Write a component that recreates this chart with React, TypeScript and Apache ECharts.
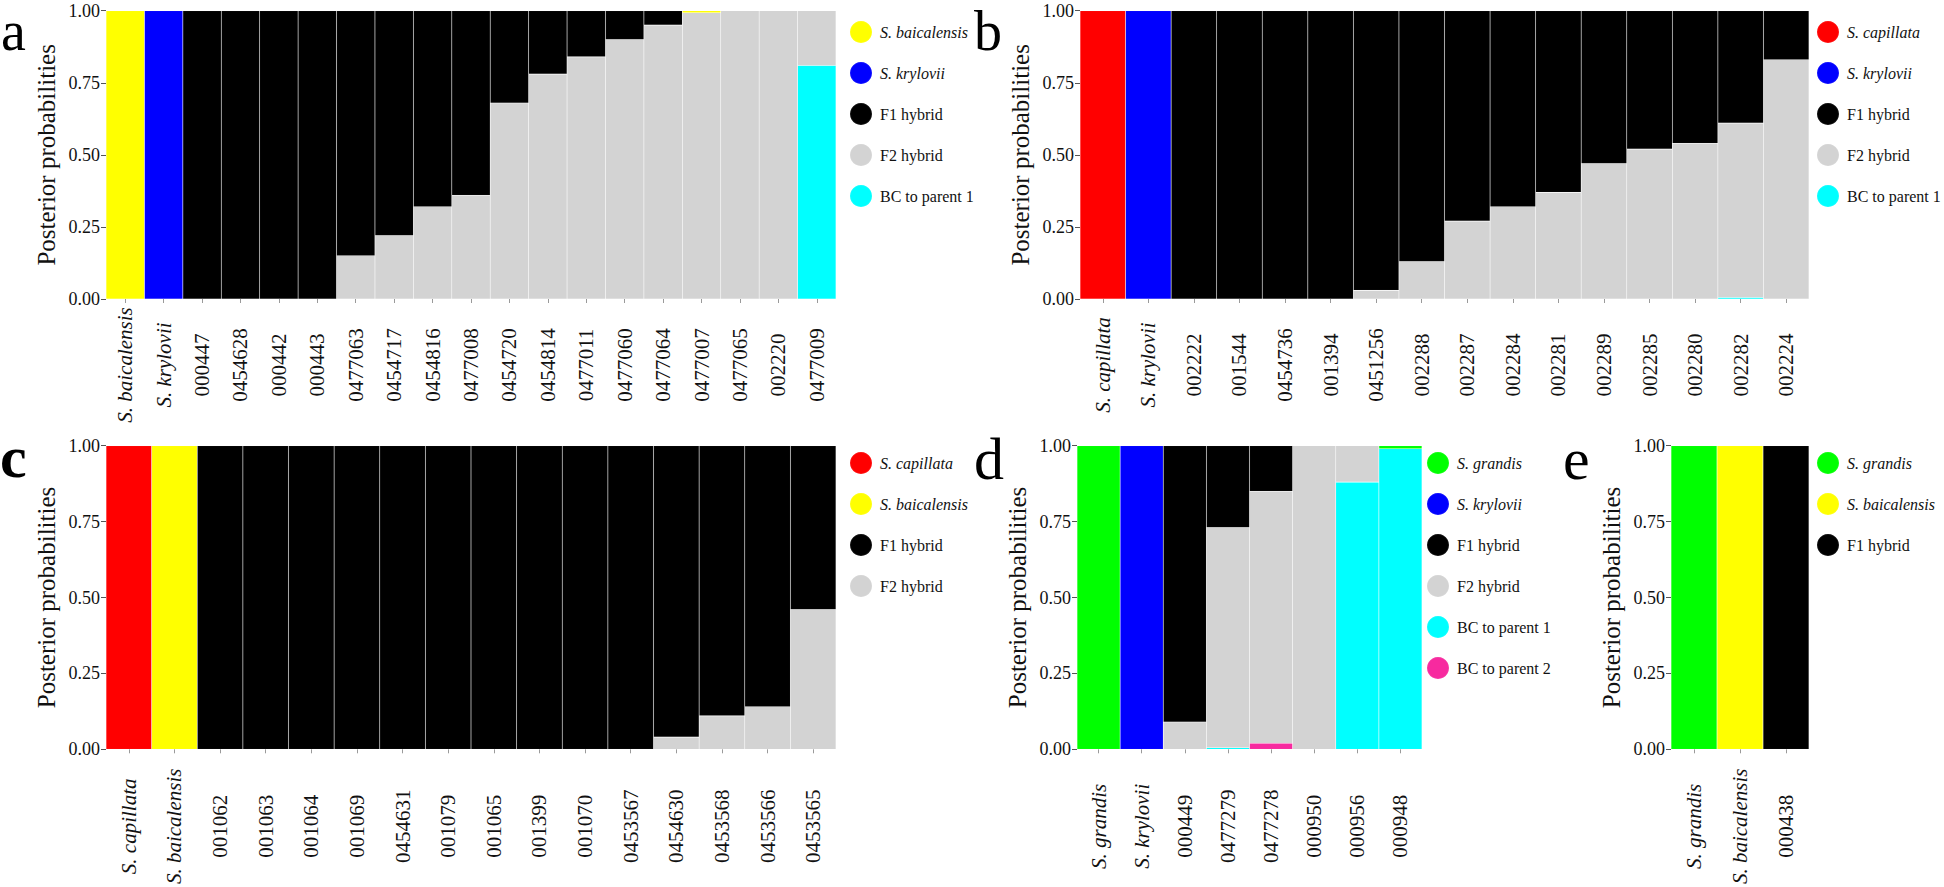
import { useEffect, useRef } from "react";
import * as echarts from "echarts";

const FONT = "Liberation Serif";

const COLOR_BAICALENSIS = "#FFFF00";
const COLOR_KRYLOVII = "#0000FF";
const COLOR_CAPILLATA = "#FF0000";
const COLOR_GRANDIS = "#00FF00";
const COLOR_F1 = "#000000";
const COLOR_F2 = "#D3D3D3";
const COLOR_BC1 = "#00FFFF";
const COLOR_BC2 = "#F72A9F";

// Panel a
const aCategories = ["S. baicalensis", "S. krylovii", "000447", "0454628", "000442", "000443", "0477063", "0454717", "0454816", "0477008", "0454720", "0454814", "0477011", "0477060", "0477064", "0477007", "0477065", "002220", "0477009"];
const aBaicalensis = [1, 0, 0, 0, 0, 0, 0, 0, 0, 0, 0, 0, 0, 0, 0, 0.007, 0, 0, 0];
const aKrylovii = [0, 1, 0, 0, 0, 0, 0, 0, 0, 0, 0, 0, 0, 0, 0, 0, 0, 0, 0];
const aF1 = [0, 0, 1, 1, 1, 1, 0.85, 0.78, 0.68, 0.64, 0.32, 0.22, 0.16, 0.10, 0.05, 0, 0, 0, 0];
const aF2 = [0, 0, 0, 0, 0, 0, 0.15, 0.22, 0.32, 0.36, 0.68, 0.78, 0.84, 0.90, 0.95, 0.993, 1, 1, 0.19];
const aBC1 = [0, 0, 0, 0, 0, 0, 0, 0, 0, 0, 0, 0, 0, 0, 0, 0, 0, 0, 0.81];

// Panel b
const bCategories = ["S. capillata", "S. krylovii", "002222", "001544", "0454736", "001394", "0451256", "002288", "002287", "002284", "002281", "002289", "002285", "002280", "002282", "002224"];
const bCapillata = [1, 0, 0, 0, 0, 0, 0, 0, 0, 0, 0, 0, 0, 0, 0, 0];
const bKrylovii = [0, 1, 0, 0, 0, 0, 0, 0, 0, 0, 0, 0, 0, 0, 0, 0];
const bF1 = [0, 0, 1, 1, 1, 1, 0.97, 0.87, 0.73, 0.68, 0.63, 0.53, 0.48, 0.46, 0.39, 0.17];
const bF2 = [0, 0, 0, 0, 0, 0, 0.03, 0.13, 0.27, 0.32, 0.37, 0.47, 0.52, 0.54, 0.605, 0.83];
const bBC1 = [0, 0, 0, 0, 0, 0, 0, 0, 0, 0, 0, 0, 0, 0, 0.005, 0];

// Panel c
const cCategories = ["S. capillata", "S. baicalensis", "001062", "001063", "001064", "001069", "0454631", "001079", "001065", "001399", "001070", "0453567", "0454630", "0453568", "0453566", "0453565"];
const cCapillata = [1, 0, 0, 0, 0, 0, 0, 0, 0, 0, 0, 0, 0, 0, 0, 0];
const cBaicalensis = [0, 1, 0, 0, 0, 0, 0, 0, 0, 0, 0, 0, 0, 0, 0, 0];
const cF1 = [0, 0, 1, 1, 1, 1, 1, 1, 1, 1, 1, 1, 0.96, 0.89, 0.86, 0.54];
const cF2 = [0, 0, 0, 0, 0, 0, 0, 0, 0, 0, 0, 0, 0.04, 0.11, 0.14, 0.46];

// Panel d
const dCategories = ["S. grandis", "S. krylovii", "000449", "0477279", "0477278", "000950", "000956", "000948"];
const dGrandis = [1, 0, 0, 0, 0, 0, 0, 0.01];
const dKrylovii = [0, 1, 0, 0, 0, 0, 0, 0];
const dF1 = [0, 0, 0.91, 0.27, 0.15, 0, 0, 0];
const dF2 = [0, 0, 0.09, 0.725, 0.83, 1, 0.12, 0];
const dBC1 = [0, 0, 0, 0.005, 0, 0, 0.88, 0.99];
const dBC2 = [0, 0, 0, 0, 0.02, 0, 0, 0];

// Panel e
const eCategories = ["S. grandis", "S. baicalensis", "000438"];
const eGrandis = [1, 0, 0];
const eBaicalensis = [0, 1, 0];
const eF1 = [0, 0, 1];

const yTicks = [0, 0.25, 0.5, 0.75, 1];

type Layer = { name: string; values: number[]; color: string };

type Panel = {
  letter: string;
  letterBold?: boolean;
  letterSize: number;
  letterPos: [number, number];
  categories: string[];
  layers: Layer[]; // top of stack first (legend order)
  grid: { left: number; top: number; width: number; height: number };
  labelMargin: number;
  legendPos: [number, number];
};

const panels: Panel[] = [
  {
    letter: "a",
    letterSize: 56,
    letterPos: [1, 31],
    categories: aCategories,
    layers: [
      { name: "S. baicalensis", values: aBaicalensis, color: COLOR_BAICALENSIS },
      { name: "S. krylovii", values: aKrylovii, color: COLOR_KRYLOVII },
      { name: "F1 hybrid", values: aF1, color: COLOR_F1 },
      { name: "F2 hybrid", values: aF2, color: COLOR_F2 },
      { name: "BC to parent 1", values: aBC1, color: COLOR_BC1 },
    ],
    grid: { left: 106, top: 10.7, width: 730, height: 288.3 },
    labelMargin: 66,
    legendPos: [849, 20],
  },
  {
    letter: "b",
    letterSize: 56,
    letterPos: [974, 31],
    categories: bCategories,
    layers: [
      { name: "S. capillata", values: bCapillata, color: COLOR_CAPILLATA },
      { name: "S. krylovii", values: bKrylovii, color: COLOR_KRYLOVII },
      { name: "F1 hybrid", values: bF1, color: COLOR_F1 },
      { name: "F2 hybrid", values: bF2, color: COLOR_F2 },
      { name: "BC to parent 1", values: bBC1, color: COLOR_BC1 },
    ],
    grid: { left: 1080, top: 10.7, width: 729, height: 288.3 },
    labelMargin: 66,
    legendPos: [1816, 20],
  },
  {
    letter: "c",
    letterBold: true,
    letterSize: 60,
    letterPos: [0, 457],
    categories: cCategories,
    layers: [
      { name: "S. capillata", values: cCapillata, color: COLOR_CAPILLATA },
      { name: "S. baicalensis", values: cBaicalensis, color: COLOR_BAICALENSIS },
      { name: "F1 hybrid", values: cF1, color: COLOR_F1 },
      { name: "F2 hybrid", values: cF2, color: COLOR_F2 },
    ],
    grid: { left: 106, top: 445.7, width: 730, height: 303.6 },
    labelMargin: 77,
    legendPos: [849, 451],
  },
  {
    letter: "d",
    letterSize: 60,
    letterPos: [974, 459],
    categories: dCategories,
    layers: [
      { name: "S. grandis", values: dGrandis, color: COLOR_GRANDIS },
      { name: "S. krylovii", values: dKrylovii, color: COLOR_KRYLOVII },
      { name: "F1 hybrid", values: dF1, color: COLOR_F1 },
      { name: "F2 hybrid", values: dF2, color: COLOR_F2 },
      { name: "BC to parent 1", values: dBC1, color: COLOR_BC1 },
      { name: "BC to parent 2", values: dBC2, color: COLOR_BC2 },
    ],
    grid: { left: 1077, top: 445.7, width: 345, height: 303.6 },
    labelMargin: 77,
    legendPos: [1426, 451],
  },
  {
    letter: "e",
    letterSize: 60,
    letterPos: [1563, 459],
    categories: eCategories,
    layers: [
      { name: "S. grandis", values: eGrandis, color: COLOR_GRANDIS },
      { name: "S. baicalensis", values: eBaicalensis, color: COLOR_BAICALENSIS },
      { name: "F1 hybrid", values: eF1, color: COLOR_F1 },
    ],
    grid: { left: 1671, top: 445.7, width: 138, height: 303.6 },
    labelMargin: 77,
    legendPos: [1816, 451],
  },
];

const isSpecies = (s: string) => s.startsWith("S. ");

function buildOption() {
  const grid: any[] = [];
  const xAxis: any[] = [];
  const yAxis: any[] = [];
  const series: any[] = [];
  const legend: any[] = [];
  const graphic: any[] = [];

  panels.forEach((p, i) => {
    grid.push({ ...p.grid, containLabel: false, outerBoundsMode: "none" });
    const labelStyle = {
      align: "center",
      verticalAlign: "middle",
      fontFamily: FONT,
      fontSize: 21,
      color: "#111",
    };
    xAxis.push({
      type: "category",
      gridIndex: i,
      data: p.categories.map((c) =>
        isSpecies(c) ? { value: c, textStyle: { ...labelStyle, fontStyle: "italic" } } : c
      ),
      axisLine: { show: false },
      axisTick: { show: true, alignWithLabel: true, length: 4, lineStyle: { color: "#9a9a9a", width: 1 } },
      axisLabel: {
        interval: 0,
        rotate: 90,
        margin: p.labelMargin,
        hideOverlap: false,
        ...labelStyle,
      },
      splitLine: { show: false },
    });
    yAxis.push({
      type: "value",
      gridIndex: i,
      min: 0,
      max: 1,
      interval: 0.25,
      axisLine: { show: false },
      axisTick: { show: true, length: 5, lineStyle: { color: "#555", width: 1 } },
      axisLabel: {
        margin: 6,
        fontFamily: FONT,
        fontSize: 18,
        color: "#111",
        formatter: (v: number) => (yTicks.includes(v) ? v.toFixed(2) : ""),
      },
      splitLine: { show: false },
      name: "Posterior probabilities",
      nameLocation: "middle",
      nameGap: 47,
      nameTextStyle: { fontFamily: FONT, fontSize: 25, color: "#111" },
    });
    // stack from bottom to top: reverse legend order
    [...p.layers].reverse().forEach((l) => {
      series.push({
        type: "bar",
        name: l.name,
        xAxisIndex: i,
        yAxisIndex: i,
        stack: "panel" + i,
        barCategoryGap: "0%",
        barGap: "0%",
        data: l.values.map((v) => (v === 0 ? "-" : v)),
        itemStyle: { color: l.color, borderColor: "rgba(255,255,255,0.07)", borderWidth: 0.6 },
        emphasis: { disabled: true },
      });
    });
    legend.push({
      orient: "vertical",
      left: p.legendPos[0],
      top: p.legendPos[1],
      icon: "circle",
      itemWidth: 28,
      itemHeight: 22,
      itemGap: 17,
      selectedMode: false,
      padding: 0,
      textStyle: { fontFamily: FONT, fontSize: 16, color: "#111" },
      data: p.layers.map((l) =>
        isSpecies(l.name) ? { name: l.name, textStyle: { fontStyle: "italic" } } : { name: l.name }
      ),
    });
    graphic.push({
      type: "text",
      x: p.letterPos[0],
      y: p.letterPos[1],
      style: {
        text: p.letter,
        fontFamily: FONT,
        fontSize: p.letterSize,
        fontWeight: p.letterBold ? "bold" : "normal",
        lineHeight: 40,
        verticalAlign: "middle",
        align: "left",
        fill: "#000",
      },
    });
  });

  return {
    animation: false,
    backgroundColor: "#fff",
    grid,
    xAxis,
    yAxis,
    series,
    legend,
    graphic,
  };
}

export default function App() {
  const ref = useRef<HTMLDivElement>(null);
  useEffect(() => {
    if (!ref.current) return;
    const chart = echarts.init(ref.current, undefined, { renderer: "svg" });
    chart.setOption(buildOption() as any);
    return () => chart.dispose();
  }, []);
  return (
    <div
      ref={ref}
      style={{ position: "fixed", left: 0, top: 0, width: 1944, height: 887, background: "#fff" }}
    />
  );
}
